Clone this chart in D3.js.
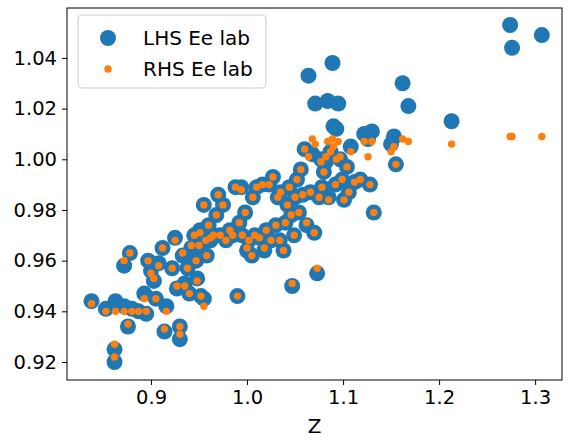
<!DOCTYPE html>
<html>
<head>
<meta charset="utf-8">
<script src="https://cdn.jsdelivr.net/npm/d3@7"></script>
<style>
  body { margin: 0; background: #fff; }
  text { font-family: "DejaVu Sans", sans-serif; }
</style>
</head>
<body>
<script>
// values
var zVals = [0.838,0.853,0.863,0.862,0.862,0.872,0.872,0.876,0.878,0.880,0.887,0.893,0.895,0.897,0.900,0.903,0.905,0.908,0.912,0.914,
  0.916,0.922,0.925,0.927,0.930,0.930,0.933,0.935,0.938,0.940,0.942,0.945,0.947,0.948,0.950,0.951,0.952,0.955,0.955,0.957,
  0.958,0.960,0.962,0.965,0.968,0.970,0.972,0.975,0.978,0.982,0.985,0.988,0.990,0.992,0.994,0.995,0.998,1.000,1.002,1.005,
  1.006,1.008,1.010,1.013,1.016,1.018,1.020,1.023,1.025,1.027,1.030,1.032,1.034,1.035,1.038,1.040,1.042,1.044,1.046,1.047,
  1.049,1.050,1.052,1.054,1.056,1.058,1.060,1.062,1.064,1.066,1.068,1.070,1.071,1.073,1.075,1.077,1.078,1.080,1.082,1.084,
  1.085,1.087,1.089,1.090,1.092,1.093,1.095,1.097,1.099,1.101,1.104,1.106,1.108,1.112,1.118,1.122,1.126,1.128,1.130,1.132,
  1.153,1.155,1.150,1.162,1.168,1.213,1.274,1.276,1.307];
var lhsVals = [0.944,0.941,0.944,0.925,0.920,0.942,0.958,0.934,0.963,0.941,0.940,0.947,0.939,0.960,0.956,0.952,0.945,0.959,0.965,0.932,
  0.942,0.957,0.969,0.949,0.934,0.929,0.962,0.951,0.957,0.947,0.965,0.970,0.960,0.953,0.965,0.972,0.946,0.982,0.945,0.968,
  0.962,0.974,0.968,0.970,0.978,0.986,0.970,0.982,0.968,0.972,0.970,0.989,0.946,0.975,0.989,0.970,0.979,0.964,0.968,0.962,
  0.985,0.970,0.989,0.969,0.990,0.964,0.972,0.990,0.968,0.993,0.974,0.985,0.968,0.987,0.964,0.975,0.982,0.989,0.978,0.950,
  0.970,0.985,0.992,0.979,0.996,0.986,1.004,0.974,1.033,0.987,1.002,0.971,1.022,0.955,0.985,1.000,0.989,0.995,0.999,1.023,
  0.985,1.003,1.038,1.013,0.990,1.012,1.022,1.000,0.992,0.984,0.997,0.987,1.005,0.991,0.992,1.010,1.008,0.990,1.011,0.979,
  1.009,0.998,1.006,1.030,1.021,1.015,1.053,1.044,1.049];
var rhsVals = [0.943,0.940,0.940,0.927,0.922,0.940,0.960,0.935,0.963,0.940,0.940,0.945,0.940,0.960,0.955,0.953,0.945,0.958,0.965,0.933,
  0.940,0.957,0.968,0.950,0.934,0.931,0.963,0.950,0.957,0.947,0.966,0.970,0.960,0.952,0.966,0.971,0.946,0.982,0.942,0.968,
  0.962,0.974,0.969,0.970,0.978,0.986,0.970,0.982,0.968,0.972,0.970,0.989,0.946,0.975,0.988,0.970,0.979,0.965,0.968,0.962,
  0.985,0.970,0.989,0.969,0.990,0.965,0.972,0.990,0.968,0.993,0.974,0.985,0.968,0.987,0.964,0.975,0.982,0.989,0.978,0.951,
  0.970,0.985,0.992,0.979,0.996,0.986,1.004,0.975,1.001,0.987,1.008,0.971,1.006,0.957,0.985,0.999,0.989,0.995,1.001,1.007,
  0.984,1.003,1.008,1.005,0.990,1.000,1.007,1.001,0.992,0.984,0.997,0.987,1.003,0.991,0.992,1.007,1.001,0.990,1.007,0.979,
  1.005,0.998,1.003,1.008,1.007,1.006,1.009,1.009,1.009];
var xTicks = [0.9, 1.0, 1.1, 1.2, 1.3];
var yTicks = [0.92, 0.94, 0.96, 0.98, 1.00, 1.02, 1.04];
var seriesNames = ["LHS Ee lab", "RHS Ee lab"];

var width = 572, height = 444;
var margin = {left: 67, right: 10, top: 8, bottom: 64};

var svg = d3.select("body").append("svg")
    .attr("width", width).attr("height", height);

var x = d3.scaleLinear().domain([0.8125, 1.328])
    .range([margin.left, width - margin.right]);
var y = d3.scaleLinear().domain([0.9129, 1.0597])
    .range([height - margin.bottom, margin.top]);

// blue then orange on top
svg.append("g").selectAll("circle").data(zVals).enter().append("circle")
    .attr("cx", function(d){ return x(d); })
    .attr("cy", function(d, i){ return y(lhsVals[i]); })
    .attr("r", 8).attr("fill", "#1f77b4");
svg.append("g").selectAll("circle").data(zVals).enter().append("circle")
    .attr("cx", function(d){ return x(d); })
    .attr("cy", function(d, i){ return y(rhsVals[i]); })
    .attr("r", 3.7).attr("fill", "#ff7f0e");

// axes
var xAxis = svg.append("g")
    .attr("transform", "translate(0," + (height - margin.bottom) + ")")
    .call(d3.axisBottom(x).tickValues(xTicks).tickFormat(d3.format(".1f")).tickSize(5).tickPadding(5));
var yAxis = svg.append("g")
    .attr("transform", "translate(" + margin.left + ",0)")
    .call(d3.axisLeft(y).tickValues(yTicks).tickFormat(d3.format(".2f")).tickSize(5).tickPadding(5));
[xAxis, yAxis].forEach(function(a){
    a.selectAll("text").style("font-size", "19.5px").attr("fill", "#000");
    a.select(".domain").remove();
});

svg.append("rect")
    .attr("x", margin.left).attr("y", margin.top)
    .attr("width", width - margin.left - margin.right)
    .attr("height", height - margin.top - margin.bottom)
    .attr("fill", "none").attr("stroke", "#000").attr("stroke-width", 1);

svg.append("text")
    .attr("x", (margin.left + width - margin.right) / 2).attr("y", 433)
    .attr("text-anchor", "middle").style("font-size", "20px").text("Z");

// legend
var lg = svg.append("g");
lg.append("rect").attr("x", 78).attr("y", 15).attr("width", 188).attr("height", 73)
    .attr("rx", 4).attr("fill", "#fff").attr("fill-opacity", 0.8)
    .attr("stroke", "#ccc");
seriesNames.forEach(function(name, i){
    var cy = 38 + i * 31;
    lg.append("circle").attr("cx", 108).attr("cy", cy)
        .attr("r", i === 0 ? 8 : 3.7)
        .attr("fill", i === 0 ? "#1f77b4" : "#ff7f0e");
    lg.append("text").attr("x", 143).attr("y", cy + 7)
        .style("font-size", "20px").text(name);
});
</script>
</body>
</html>
